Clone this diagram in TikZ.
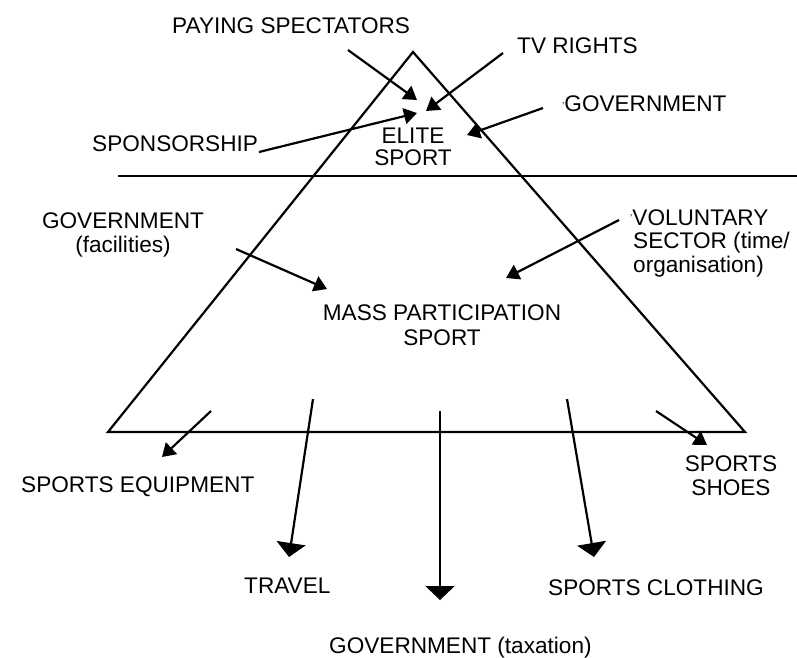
\documentclass[tikz,border=0pt]{standalone}
\usepackage{fontspec}
\setmainfont{Liberation Sans}
\usetikzlibrary{arrows.meta}
\begin{document}
\begin{tikzpicture}[x=1pt,y=-1pt,
  lbl/.style={font=\fontsize{22.6}{25}\selectfont, inner sep=0pt, anchor=base west},
  clbl/.style={font=\fontsize{22.6}{25}\selectfont, inner sep=0pt, anchor=base},
  edge/.style={line width=2.2pt, line join=miter},
  smallflow/.style={line width=2.2pt, -{Triangle[width=16pt,length=13pt]}},
  bigflow/.style={line width=2.2pt, -{Triangle[width=29pt,length=14pt]}},
  divider/.style={line width=1.2pt}]
\useasboundingbox (0,0) rectangle (797,657);

% pyramid
\coordinate (apex) at (413,52);
\coordinate (bl) at (108,432);
\coordinate (br) at (745,432);
\draw[edge] (bl) -- (apex) -- (br) -- cycle;
\coordinate (divL) at (118,176);
\coordinate (divR) at (797,176);
\draw[divider] (divL) -- (divR);

% labels top
\node[lbl] (pay) at (172,33) {PAYING SPECTATORS};
\node[lbl] (tv) at (517,53) {TV RIGHTS};
\node[lbl] (govtop) at (562,111) {\raisebox{2pt}{\fontsize{10}{10}\selectfont'}GOVERNMENT};
\node[lbl] (spon) at (92,151) {SPONSORSHIP};
\node[clbl] (elite1) at (413,143) {ELITE};
\node[clbl] (elite2) at (413,165) {SPORT};

% labels middle
\node[clbl] (govfac1) at (123,228) {GOVERNMENT};
\node[clbl] (govfac2) at (123,252) {(facilities)};
\node[lbl] (vol1) at (630,225) {\raisebox{4pt}{\fontsize{10}{10}\selectfont'}VOLUNTARY};
\node[lbl] (vol2) at (633,248) {SECTOR (time/};
\node[lbl] (vol3) at (633,272) {organisation)};
\node[clbl] (mass1) at (442,320) {MASS PARTICIPATION};
\node[clbl] (mass2) at (442,345) {SPORT};

% labels bottom
\node[lbl] (equip) at (21,492) {SPORTS EQUIPMENT};
\node[clbl] (shoes1) at (731,471) {SPORTS};
\node[clbl] (shoes2) at (731,495) {SHOES};
\node[lbl] (travel) at (244,593) {TRAVEL};
\node[lbl] (cloth) at (548,595) {SPORTS CLOTHING};
\node[lbl] (tax) at (329,653) {GOVERNMENT (taxation)};

% arrow end points
\coordinate (payS) at (348,50);   \coordinate (payT) at (417,100);
\coordinate (tvS) at (503,53);    \coordinate (tvT) at (426,111);
\coordinate (sponS) at (259,152); \coordinate (sponT) at (417,113);
\coordinate (govS) at (543,108);  \coordinate (govT) at (467,135);
\coordinate (facS) at (236,249);  \coordinate (facT) at (327,289);
\coordinate (volS) at (619,220);  \coordinate (volT) at (506,278);
\coordinate (eqS) at (211,411);   \coordinate (eqT) at (162,457);
\coordinate (trS) at (313,399);   \coordinate (trT) at (289,557);
\coordinate (taxS) at (440,411);  \coordinate (taxT) at (440,600);
\coordinate (clS) at (567,399);   \coordinate (clT) at (594,557);
\coordinate (shS) at (656,411);   \coordinate (shT) at (707,445);

\draw[smallflow] (payS) -- (payT);
\draw[smallflow] (tvS) -- (tvT);
\draw[smallflow] (sponS) -- (sponT);
\draw[smallflow] (govS) -- (govT);
\draw[smallflow] (facS) -- (facT);
\draw[smallflow] (volS) -- (volT);
\draw[smallflow] (eqS) -- (eqT);
\draw[bigflow] (trS) -- (trT);
\draw[bigflow] (taxS) -- (taxT);
\draw[bigflow] (clS) -- (clT);
\draw[smallflow] (shS) -- (shT);
\end{tikzpicture}
\end{document}
